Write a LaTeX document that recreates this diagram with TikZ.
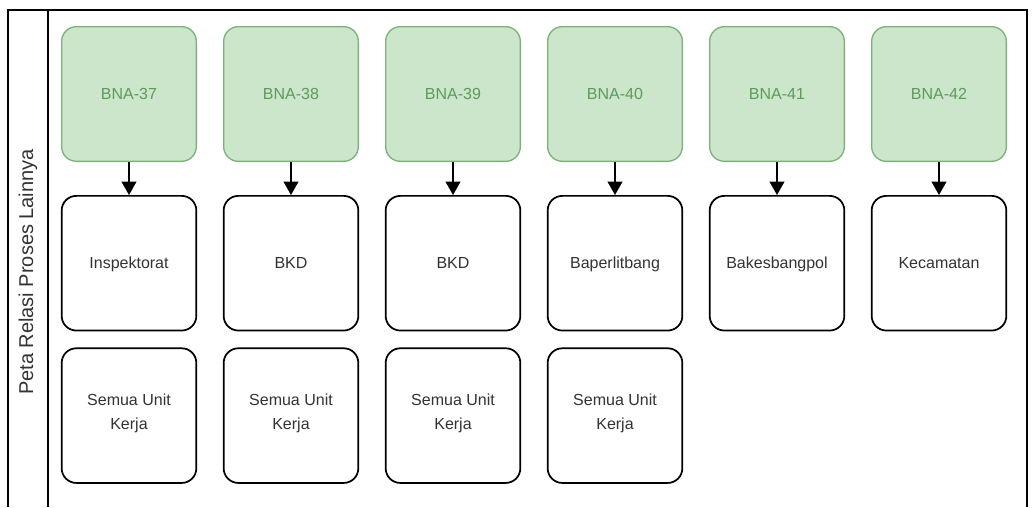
\documentclass[tikz,border=0pt]{standalone}
\usepackage{fontspec}
\setmainfont{Liberation Sans}
\usepackage{xcolor}
\usepackage{tikz}
\usetikzlibrary{positioning,arrows.meta}
\definecolor{bnafill}{HTML}{CBE6CA}
\definecolor{bnaline}{HTML}{7DB27A}
\definecolor{bnatext}{HTML}{5E9A5B}
\definecolor{unittext}{HTML}{333333}
\tikzset{bna node/.style={rectangle,rounded corners=11pt,fill=bnafill,draw=bnaline,line width=1pt,text=bnatext,minimum size=101pt,inner sep=0pt,font=\fontsize{12pt}{17pt}\selectfont},
unit node/.style={rectangle,rounded corners=11pt,fill=white,draw=black,line width=1.3pt,text=unittext,minimum size=101pt,inner sep=0pt,align=center,execute at begin node=\strut,font=\fontsize{12pt}{18pt}\selectfont},
rel/.style={draw,line width=1.3pt,-{Triangle[width=11pt,length=10pt]}},}

\begin{document}
\begin{tikzpicture}[x=0.75pt,y=-0.75pt]
	\useasboundingbox (0,0) rectangle (1035,507);
	% frame
	\draw[line width=1.5pt] (8,507) -- (8,10) -- (1027,10) -- (1027,507);
	\draw[line width=1.5pt] (48,10) -- (48,507);
	\node[rotate=90,text=unittext,font=\fontsize{15pt}{18pt}\selectfont] (judul) at (28,272) {Peta Relasi Proses Lainnya};

	\begin{scope}[xshift=0pt]
    \node[bna node] (1) at (129,94) {BNA-37};
    \node[unit node] (2) [below = 24.75pt of 1] {Inspektorat};
    \node[unit node] (3) [below = 12pt of 2] {Semua Unit\\Kerja};

    \path[rel]
    (1) edge node {} (2)
    ;
    \end{scope}

	\begin{scope}[xshift=121.5pt]
    \node[bna node] (1) at (129,94) {BNA-38};
    \node[unit node] (2) [below = 24.75pt of 1] {BKD};
    \node[unit node] (3) [below = 12pt of 2] {Semua Unit\\Kerja};

    \path[rel]
    (1) edge node {} (2)
    ;
    \end{scope}

	\begin{scope}[xshift=243pt]
    \node[bna node] (1) at (129,94) {BNA-39};
    \node[unit node] (2) [below = 24.75pt of 1] {BKD};
    \node[unit node] (3) [below = 12pt of 2] {Semua Unit\\Kerja};

    \path[rel]
    (1) edge node {} (2)
    ;
    \end{scope}

	\begin{scope}[xshift=364.5pt]
    \node[bna node] (1) at (129,94) {BNA-40};
    \node[unit node] (2) [below = 24.75pt of 1] {Baperlitbang};
    \node[unit node] (3) [below = 12pt of 2] {Semua Unit\\Kerja};

    \path[rel]
    (1) edge node {} (2)
    ;
    \end{scope}

	\begin{scope}[xshift=486pt]
    \node[bna node] (1) at (129,94) {BNA-41};
    \node[unit node] (2) [below = 24.75pt of 1] {Bakesbangpol};

    \path[rel]
    (1) edge node {} (2)
    ;
    \end{scope}

	\begin{scope}[xshift=607.5pt]
    \node[bna node] (1) at (129,94) {BNA-42};
    \node[unit node] (2) [below = 24.75pt of 1] {Kecamatan};

    \path[rel]
    (1) edge node {} (2)
    ;
    \end{scope}
\end{tikzpicture}
\end{document}
